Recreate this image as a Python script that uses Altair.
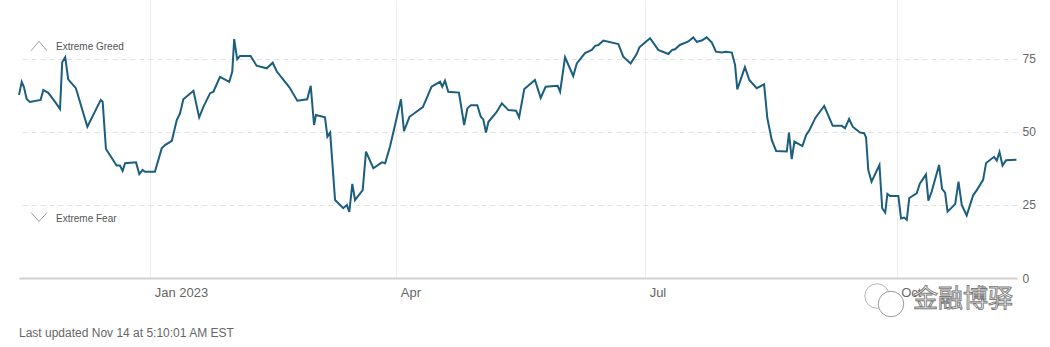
import altair as alt
import pandas as pd

# Day offsets from 2022-11-14 and CNN Fear & Greed index values
day_offsets = [
    0, 1.0, 1.8, 2.8, 4.0, 7.9, 8.9, 10.7, 13.2, 15.0,
    15.8, 16.9, 18.0, 20.8, 25.0, 29.9, 30.6, 31.8, 35.7, 36.9,
    37.9, 38.8, 42.8, 44.0, 45.2, 46.1, 49.7, 52.2, 53.4, 55.9,
    57.7, 58.9, 60.1, 63.8, 65.9, 67.4, 69.9, 71.1, 73.5, 76.9,
    78.0, 78.7, 79.8, 80.8, 84.7, 86.9, 90.6, 92.8, 94.3, 98.9,
    101.8, 105.4, 106.7, 107.9, 108.6, 111.9, 112.8, 113.8, 115.6, 118.6,
    119.9, 120.8, 121.9, 122.9, 125.7, 126.9, 129.6, 132.7, 133.9, 135.7,
    139.7, 140.8, 142.8, 147.7, 150.9, 154.0, 154.8, 155.8, 157.0, 160.9,
    162.8, 164.0, 165.3, 167.6, 168.9, 169.8, 170.8, 171.7, 174.5, 176.6,
    179.0, 181.8, 182.9, 184.8, 188.7, 190.8, 192.6, 197.0, 197.9, 199.7,
    202.7, 204.0, 207.0, 209.5, 210.7, 211.9, 213.7, 219.2, 221.0, 223.7,
    225.9, 226.9, 230.8, 233.8, 237.5, 238.9, 239.9, 241.7, 244.8, 246.6,
    247.9, 249.7, 251.5, 253.4, 254.9, 257.0, 258.6, 260.7, 261.9, 262.7,
    265.5, 267.1, 269.8, 272.5, 273.7, 275.3, 276.9, 280.8, 281.6, 282.6,
    283.6, 286.5, 287.9, 289.1, 291.3, 294.5, 297.6, 300.9, 302.1, 303.6,
    304.9, 307.6, 309.1, 309.8, 310.6, 311.8, 314.7, 315.7, 316.8, 317.6,
    318.6, 321.6, 322.6, 323.7, 324.7, 325.6, 328.3, 329.5, 331.7, 332.6,
    333.8, 336.5, 337.6, 338.7, 339.6, 342.4, 343.6, 344.8, 346.6, 349.0,
    350.3, 352.6, 353.7, 356.6, 357.6, 358.6, 359.7, 361.0, 364.8,
]
fg_values = [
    62.7, 67.2, 65.4, 61.3, 60.3, 61.0, 64.4, 63.4, 60.3, 57.9,
    73.9, 75.6, 68.0, 65.0, 51.8, 61.0, 60.3, 44.2, 38.5, 38.5,
    36.7, 39.3, 39.6, 35.6, 37.0, 36.4, 36.4, 44.4, 45.5, 47.0,
    54.1, 56.4, 61.2, 64.1, 55.0, 58.5, 63.3, 63.8, 68.9, 67.2,
    70.7, 81.8, 74.9, 76.0, 76.0, 72.7, 71.8, 73.7, 70.7, 65.3,
    60.7, 61.2, 65.8, 52.4, 55.8, 55.0, 48.4, 49.8, 26.7, 23.9,
    25.0, 22.6, 32.2, 26.7, 30.1, 43.3, 37.6, 39.6, 39.3, 45.0,
    61.2, 50.3, 55.2, 58.5, 65.5, 67.2, 65.5, 67.6, 63.8, 63.5,
    52.4, 58.1, 59.2, 59.2, 55.2, 54.3, 49.8, 53.5, 56.6, 59.8,
    57.5, 57.3, 55.0, 64.7, 67.8, 61.7, 65.5, 65.8, 63.8, 75.6,
    69.2, 73.5, 77.0, 78.1, 79.5, 79.8, 81.3, 80.1, 75.8, 73.5,
    76.7, 79.0, 82.1, 78.1, 76.7, 78.1, 78.3, 79.8, 81.0, 82.4,
    80.9, 81.3, 82.4, 80.6, 77.5, 77.2, 77.5, 77.2, 72.9, 64.6,
    72.2, 67.8, 65.0, 66.3, 54.7, 47.3, 43.5, 43.3, 49.8, 40.7,
    46.7, 45.2, 49.0, 50.7, 54.9, 58.9, 52.1, 52.1, 51.3, 54.5,
    51.8, 49.8, 49.6, 48.1, 37.0, 33.0, 38.7, 23.9, 22.4, 28.8,
    28.1, 28.1, 20.4, 20.7, 19.9, 27.4, 29.0, 32.4, 35.5, 26.5,
    29.6, 38.7, 30.5, 29.2, 22.7, 25.3, 33.0, 25.0, 21.4, 28.4,
    30.1, 33.6, 39.4, 41.5, 40.2, 43.1, 38.5, 40.3, 40.5,
]
assert len(day_offsets) == len(fg_values)

y_ticks = [0, 25, 50, 75]
greed_label = ["Extreme Greed"]
fear_label = ["Extreme Fear"]
footer_text = ["Last updated Nov 14 at 5:10:01 AM EST"]
watermark_text = ["金融博驿"]

start = pd.Timestamp("2022-11-14")
df = pd.DataFrame({
    "date": [start + pd.Timedelta(days=d) for d in day_offsets],
    "value": fg_values,
})

FONT = "Liberation Sans"
GRAY = "#666666"

x_enc = alt.X(
    "date:T",
    scale=alt.Scale(domain=[alt.DateTime(year=2022, month=11, date=14),
                            alt.DateTime(year=2023, month=11, date=14)]),
    axis=alt.Axis(
        values=[alt.DateTime(year=2023, month=1, date=1),
                alt.DateTime(year=2023, month=4, date=1),
                alt.DateTime(year=2023, month=7, date=1),
                alt.DateTime(year=2023, month=10, date=1)],
        labelExpr="month(datum.value) == 0 ? timeFormat(datum.value, '%b %Y') : timeFormat(datum.value, '%b')",
        labelAlign="left", labelOffset=4, labelPadding=8,
        labelFontSize=13, labelColor=GRAY, labelFont=FONT,
        grid=True, gridColor="#e6e6e6", gridWidth=1, gridDash=[1, 0],
        ticks=False, domain=True, domainColor="#d0d0d0", domainWidth=2,
        title=None,
    ),
)
y_enc = alt.Y(
    "value:Q",
    scale=alt.Scale(domain=[0, 95.2], nice=False, zero=True),
    axis=alt.Axis(
        orient="right", values=y_ticks,
        grid=True, gridDash=[5, 4], gridColor="#e2e2e2", gridWidth=1,
        ticks=False, domain=False,
        labelFontSize=12, labelColor=GRAY, labelFont=FONT, labelPadding=5,
        title=None,
    ),
)

line = alt.Chart(df).mark_line(color="#1b5e7e", strokeWidth=2).encode(x=x_enc, y=y_enc)

# x/y values below are relative to the plot origin (left padding 19 px)
def text_layer(items, x, y, size, color, align="left", font=FONT, **kw):
    return alt.Chart(pd.DataFrame({"t": items})).mark_text(
        align=align, baseline="middle", fontSize=size, font=font, color=color, **kw
    ).encode(x=alt.value(x), y=alt.value(y), text="t:N")

greed = text_layer(greed_label, 37, 47, 10, "#555555")
fear = text_layer(fear_label, 37, 218.5, 10, "#555555")
footer = text_layer(footer_text, 0, 332.5, 12, GRAY)
watermark = alt.Chart(pd.DataFrame({"t": watermark_text})).mark_text(
    align="left", baseline="middle", fontSize=25, font="Noto Sans CJK SC",
    fill="#fafafa", stroke="#7a7a7a", strokeWidth=0.9,
).encode(x=alt.value(894), y=alt.value(299), text="t:N")

caret_df = pd.DataFrame({"k": [1]})
up_caret = alt.Chart(caret_df).mark_point(
    shape="M -1 0.6 L 0 -0.6 L 1 0.6", filled=False, stroke="#777777",
    strokeWidth=1, size=256,
).encode(x=alt.value(20), y=alt.value(46))
down_caret = alt.Chart(caret_df).mark_point(
    shape="M -1 -0.55 L 0 0.55 L 1 -0.55", filled=False, stroke="#777777",
    strokeWidth=1, size=256,
).encode(x=alt.value(20), y=alt.value(217))

bubble1 = alt.Chart(caret_df).mark_point(
    shape="circle", filled=False, stroke="#9a9a9a", strokeWidth=1, size=600,
).encode(x=alt.value(858), y=alt.value(296))
bubble2 = alt.Chart(caret_df).mark_point(
    shape="circle", filled=True, fill="#ffffff", fillOpacity=0.9,
    stroke="#9a9a9a", strokeWidth=1, size=650,
).encode(x=alt.value(872), y=alt.value(304))

chart = alt.layer(
    line, greed, fear, up_caret, down_caret, footer, bubble1, bubble2, watermark
).properties(
    width=998, height=278,
    autosize=alt.AutoSizeParams(type="none"),
    padding={"left": 19, "top": 0, "right": 33, "bottom": 69},
    background="#ffffff",
).configure_view(stroke=None)

chart.save("out.html", embed_options={"renderer": "svg", "actions": False})
